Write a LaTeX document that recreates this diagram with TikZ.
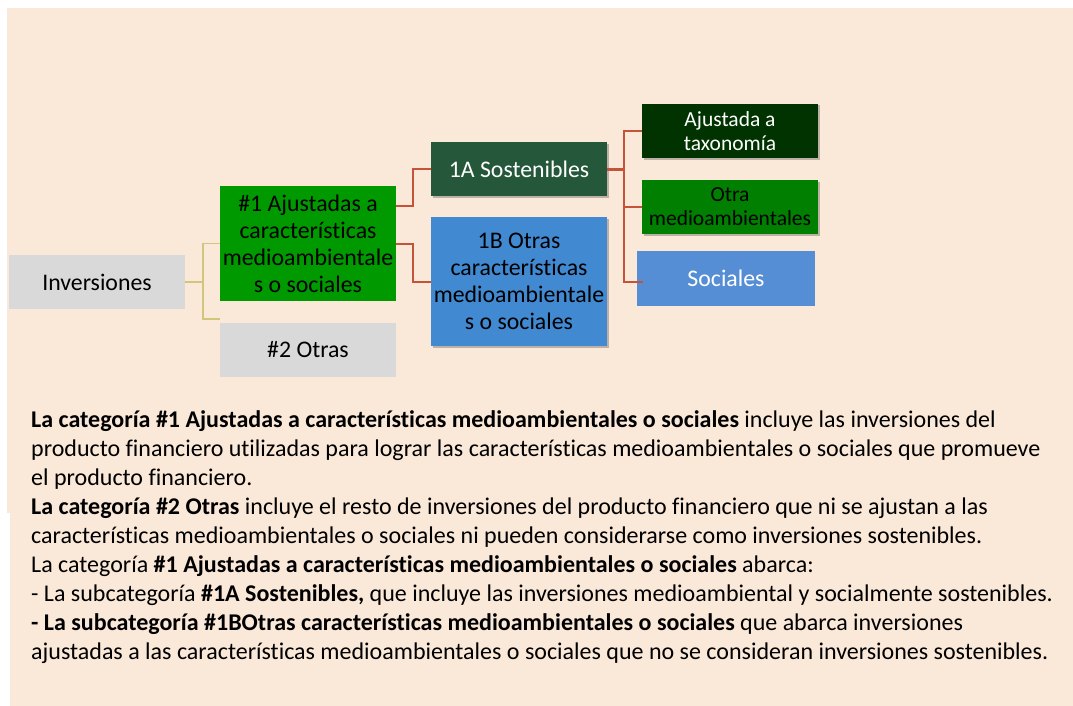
\documentclass[tikz,border=0pt]{standalone}
\usepackage{fontspec}
\setmainfont{Carlito}[Ligatures=CommonOff]
\usetikzlibrary{shadows}
\definecolor{bgpeach}{HTML}{FAE8D8}
\definecolor{boxgray}{HTML}{D9D9D9}
\definecolor{greenA}{HTML}{009900}
\definecolor{darkA}{HTML}{25573A}
\definecolor{blueB}{HTML}{4189D1}
\definecolor{darkT}{HTML}{003300}
\definecolor{greenO}{HTML}{007F00}
\definecolor{blueS}{HTML}{558ED5}
\definecolor{redline}{HTML}{C5533A}
\definecolor{yelline}{HTML}{D2C57C}
\tikzset{
  box/.style={rectangle, inner sep=0pt, align=center, minimum width=176pt, minimum height=54pt,
    font=\fontsize{23.8}{27}\selectfont},
  shad/.style={drop shadow={shadow xshift=1.5pt, shadow yshift=-1.5pt, opacity=0.35, fill=black!70}},
  rd/.style={draw=redline, line width=2pt},
  yl/.style={draw=yelline, line width=1.6pt},
  para/.style={anchor=base west, inner sep=0pt, font=\fontsize{24}{29}\selectfont}
}
\begin{document}
\begin{tikzpicture}[x=1pt,y=-1pt]
\useasboundingbox (0,0) rectangle (1073,706);
\fill[white] (0,0) rectangle (1073,706);
\fill[bgpeach] (7,8) rectangle (1073,706);
\fill[white] (7,513) rectangle (9.5,706);

% nodes
\node[box, fill=boxgray] (inv) at (97,282) {Inversiones};
\node[box, fill=greenA, minimum height=115pt] (a1) at (308,243.5) {\#1 Ajustadas a\\caracter\'isticas\\medioambientale\\s o sociales};
\node[box, fill=boxgray] (n2) at (308,350) {\#2 Otras};
\node[box, fill=darkA, text=white, shad] (s1a) at (519,169) {1A Sostenibles};
\node[box, fill=blueB, minimum height=129pt, shad] (s1b) at (519,281.5) {1B Otras\\caracter\'isticas\\medioambientale\\s o sociales};
\node[box, fill=darkT, text=white, shad, font=\fontsize{21.5}{24}\selectfont] (aj) at (730,131) {Ajustada a\\taxonom\'ia};
\node[box, fill=greenO, shad, font=\fontsize{21.5}{24}\selectfont] (ot) at (730,207) {Otra\\medioambientales};
\node[box, fill=blueS, text=white, minimum width=178pt, minimum height=55pt] (so) at (726,278.5) {Sociales};

% connectors
\draw[yl] (inv.east) -- ++(18,0) coordinate (yj);
\draw[yl] (a1.west) -| (yj) |- ([yshift=4pt]n2.north west);
\draw[rd] ([yshift=37.5pt]a1.east) -- ++(17,0) |- (s1a.west);
\draw[rd] ([yshift=-0.5pt]a1.east) -- ++(17,0) |- (s1b.west);
\draw[draw=redline, line width=3pt] (s1a.east) -- ++(17,0) coordinate (rj);
\draw[rd] (aj.west) -| (rj);
\draw[rd] (rj) |- (ot.west);
\draw[rd] (rj) |- ([xshift=6pt,yshift=-3.5pt]so.west);

% text
\node[para] (t1) at (31,427) {\textbf{La categor\'ia \#1 Ajustadas a caracter\'isticas medioambientales o sociales} incluye las inversiones del};
\node[para] (t2) at (31,456) {producto financiero utilizadas para lograr las caracter\'isticas medioambientales o sociales que promueve};
\node[para] (t3) at (31,485) {el producto financiero.};
\node[para] (t4) at (31,514) {\textbf{La categor\'ia \#2 Otras} incluye el resto de inversiones del producto financiero que ni se ajustan a las};
\node[para] (t5) at (31,543) {caracter\'isticas medioambientales o sociales ni pueden considerarse como inversiones sostenibles.};
\node[para] (t6) at (31,572) {La categor\'ia \textbf{\#1 Ajustadas a caracter\'isticas medioambientales o sociales} abarca:};
\node[para] (t7) at (31,601) {- La subcategor\'ia \textbf{\#1A Sostenibles,} que incluye las inversiones medioambiental y socialmente sostenibles.};
\node[para] (t8) at (31,630) {\textbf{- La subcategor\'ia \#1BOtras caracter\'isticas medioambientales o sociales} que abarca inversiones};
\node[para] (t9) at (31,659) {ajustadas a las caracter\'isticas medioambientales o sociales que no se consideran inversiones sostenibles.};
\end{tikzpicture}
\end{document}
